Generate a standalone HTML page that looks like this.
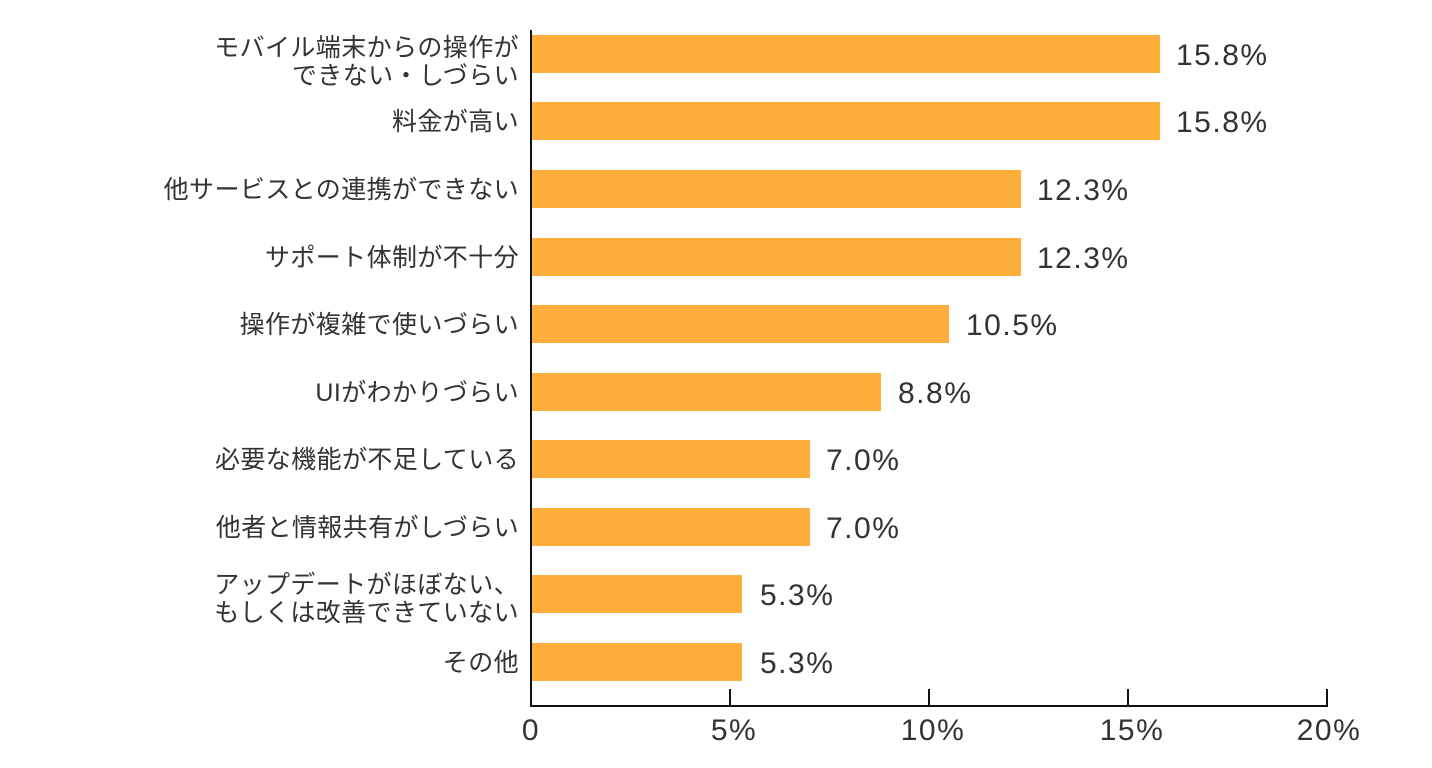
<!DOCTYPE html>
<html><head><meta charset="utf-8"><style>
body{margin:0;background:#fff;width:1432px;height:768px;overflow:hidden;position:relative;font-family:"Liberation Sans","Noto Sans CJK JP",sans-serif;color:#333}
.bar{position:absolute;left:532px;height:38px;background:#ffae3b}
.v{position:absolute;font-size:30px;line-height:40px;color:#333;letter-spacing:1.5px}
.c{position:absolute;right:913px;font-size:25px;line-height:28px;text-align:right;color:#333;letter-spacing:0.4px}
.t{position:absolute;top:714px;font-size:30px;width:120px;text-align:center;margin-left:-60px;letter-spacing:1.5px}
.tk{position:absolute;top:689px;width:2px;height:17px;background:#111}
</style></head><body>
<div style="position:absolute;left:530px;top:30px;width:2px;height:677px;background:#111"></div>
<div style="position:absolute;left:530px;top:705px;width:798px;height:2px;background:#111"></div>
<div class="tk" style="left:729px"></div><div class="tk" style="left:928px"></div><div class="tk" style="left:1127px"></div><div class="tk" style="left:1326px"></div>
<div class="t" style="left:531px">0</div><div class="t" style="left:734px">5%</div><div class="t" style="left:933px">10%</div><div class="t" style="left:1132px">15%</div><div class="t" style="left:1329px">20%</div>

<div class="bar" style="top:35px;width:628px"></div><div class="v" style="top:36px;left:1176px">15.8%</div>
<div class="c" style="top:34px">モバイル端末からの操作が<br>できない・しづらい</div>
<div class="bar" style="top:102px;width:628px"></div><div class="v" style="top:103px;left:1176px">15.8%</div>
<div class="c" style="top:108px">料金が高い</div>
<div class="bar" style="top:170px;width:489px"></div><div class="v" style="top:171px;left:1037px">12.3%</div>
<div class="c" style="top:176px">他サービスとの連携ができない</div>
<div class="bar" style="top:238px;width:489px"></div><div class="v" style="top:239px;left:1037px">12.3%</div>
<div class="c" style="top:244px">サポート体制が不十分</div>
<div class="bar" style="top:305px;width:417px"></div><div class="v" style="top:306px;left:966px">10.5%</div>
<div class="c" style="top:311px">操作が複雑で使いづらい</div>
<div class="bar" style="top:373px;width:349px"></div><div class="v" style="top:374px;left:898px">8.8%</div>
<div class="c" style="top:379px">UIがわかりづらい</div>
<div class="bar" style="top:440px;width:278px"></div><div class="v" style="top:441px;left:826px">7.0%</div>
<div class="c" style="top:446px">必要な機能が不足している</div>
<div class="bar" style="top:508px;width:278px"></div><div class="v" style="top:509px;left:826px">7.0%</div>
<div class="c" style="top:514px">他者と情報共有がしづらい</div>
<div class="bar" style="top:575px;width:210px"></div><div class="v" style="top:576px;left:760px">5.3%</div>
<div class="c" style="top:571px">アップデートがほぼない、<br>もしくは改善できていない</div>
<div class="bar" style="top:643px;width:210px"></div><div class="v" style="top:644px;left:760px">5.3%</div>
<div class="c" style="top:649px">その他</div>
</body></html>
